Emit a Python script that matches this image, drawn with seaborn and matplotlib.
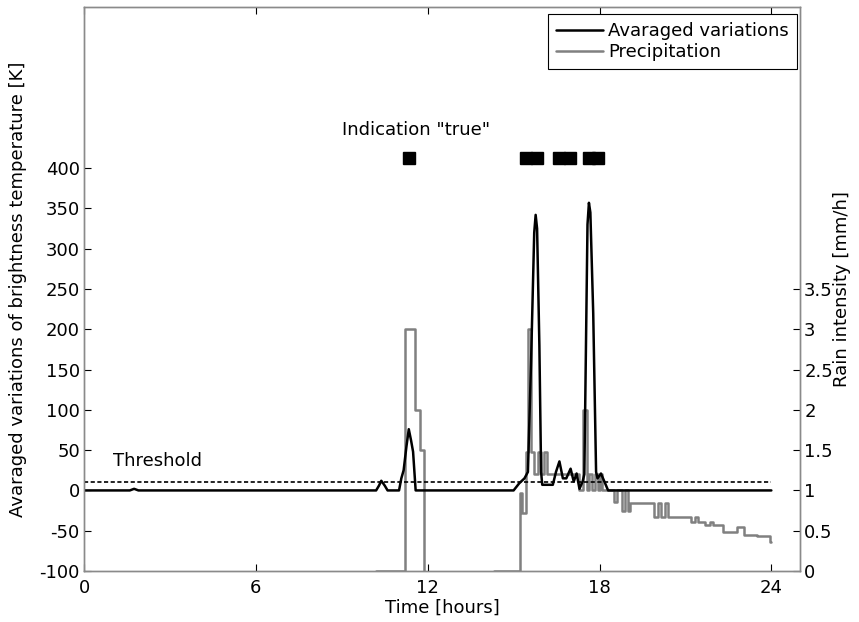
import matplotlib
matplotlib.use("Agg")
import matplotlib.pyplot as plt
import seaborn as sns

# ---- data ----
var_t = [0.0, 1.6, 1.75, 1.9, 4.0, 10.2, 10.3, 10.38, 10.5, 10.6, 11.0, 11.08, 11.16,
         11.26, 11.34, 11.42, 11.49, 11.58, 15.0, 15.2, 15.38, 15.5, 15.61, 15.72,
         15.77, 15.82, 15.9, 15.96, 16.0, 16.37, 16.48, 16.6, 16.72, 16.84, 16.99,
         17.1, 17.2, 17.3, 17.41, 17.47, 17.58, 17.63, 17.68, 17.78, 17.88, 17.93,
         18.05, 18.17, 18.3, 24.0]
var_v = [0, 0, 2, 0, 0, 0, 6, 12, 6, 0, 0, 15, 25,
         55, 76, 62, 48, 0, 0, 9, 15, 23, 160, 320,
         342, 325, 180, 23, 7, 7, 23, 36, 15, 15, 27,
         11, 21, 2, 11, 20, 330, 357, 345, 220, 23, 15,
         21, 11, 0, 0]

# precipitation, first rain event
prec1_t = [10.2, 11.22, 11.55, 11.74, 11.86]
prec1_v = [0, 3.0, 2.0, 1.5, 0]
# precipitation, second rain event
prec2_t = [14.3, 15.23, 15.3, 15.45, 15.52, 15.61, 15.7,
           15.84, 15.96, 16.05, 16.18, 17.3, 17.44, 17.55, 17.65, 17.75, 17.85, 17.95,
           18.0, 18.1, 18.5, 18.6, 18.8, 18.9, 19.0, 19.08, 19.9, 20.05, 20.15, 20.3,
           20.4, 21.2, 21.35, 21.45, 21.7, 21.85, 21.95, 22.3, 22.8, 23.05, 23.5, 23.95, 24.0]
prec2_v = [0, 0.97, 0.72, 1.48, 3.0, 1.48, 1.21,
           1.48, 1.21, 1.48, 1.21, 1.0, 2.0, 1.0, 1.21, 1.0, 1.21, 1.0,
           1.21, 1.0, 0.86, 1.0, 0.75, 1.0, 0.75, 0.84, 0.67, 0.84, 0.67, 0.84,
           0.67, 0.61, 0.67, 0.61, 0.57, 0.61, 0.57, 0.49, 0.55, 0.45, 0.43, 0.36, 0.36]

indication_t = [11.35, 15.45, 15.8, 16.6, 16.97, 17.65, 17.96]
indication_level = 413
threshold = 10

x_ticks = [0, 6, 12, 18, 24]
left_ticks = list(range(-100, 401, 50))
right_ticks = [0, 0.5, 1, 1.5, 2, 2.5, 3, 3.5]

# ---- style ----
sns.set_style("white")
plt.rcParams['font.family'] = ['DejaVu Sans']
plt.rcParams['text.color'] = 'black'
plt.rcParams['axes.labelcolor'] = 'black'
FS = 13

fig = plt.figure(figsize=(8.59, 6.22), dpi=100)
ax = fig.add_axes([84/859, 51/622, 716/859, 564/622])
ax2 = ax.twinx()

sns.lineplot(x=var_t, y=var_v, ax=ax, color='black', lw=1.8,
             label='Avaraged variations', estimator=None, sort=False)
sns.lineplot(x=prec1_t, y=prec1_v, ax=ax2, color='#808080', lw=1.8,
             drawstyle='steps-post', label='Precipitation', estimator=None,
             sort=False, legend=False)
sns.lineplot(x=prec2_t, y=prec2_v, ax=ax2, color='#808080', lw=1.8,
             drawstyle='steps-post', estimator=None, sort=False, legend=False)

ax.plot([0, 24], [threshold, threshold], color='black', ls=(0, (2.5, 1.5)), lw=1.2)
ax.plot(indication_t, [indication_level]*len(indication_t), ls='none',
        marker='s', markersize=8.7, color='black')

ax.text(9.0, 447, 'Indication "true"', fontsize=FS, va='center', ha='left', color='black')
ax.text(1.0, 36, 'Threshold', fontsize=FS, va='center', ha='left', color='black')

ax.set_xlim(0, 25)
ax.set_ylim(-100, 600)
ax2.set_ylim(0, 7)
ax.set_xticks(x_ticks)
ax.set_xticklabels([str(t) for t in x_ticks])
ax.set_yticks(left_ticks)
ax.set_yticklabels([str(t) for t in left_ticks])
ax2.set_yticks(right_ticks)
ax2.set_yticklabels(['%g' % t for t in right_ticks])

for a in (ax, ax2):
    a.tick_params(direction='in', length=5, width=0.8, labelsize=FS, colors='black')
    for s in a.spines.values():
        s.set_color('#8a8a8a')
        s.set_linewidth(1.0)
ax.tick_params(axis='y', left=True, right=False, pad=3)
ax.tick_params(axis='x', top=True, bottom=True, pad=6)
ax2.tick_params(left=False, right=True, pad=3)

ax.set_xlabel('Time [hours]', fontsize=FS)
ax.set_ylabel('Avaraged variations of brightness temperature [K]', fontsize=FS)
ax2.set_ylabel('Rain intensity [mm/h]', fontsize=FS)
ax.xaxis.set_label_coords(0.5, -0.05)
ax.yaxis.set_label_coords(-0.079, 0.5)
ax2.yaxis.set_label_coords(1.046, 0.5)

ax.set_zorder(ax2.get_zorder() + 1)
ax.patch.set_visible(False)

h1, l1 = ax.get_legend_handles_labels()
h2, l2 = ax2.get_legend_handles_labels()
leg = ax.legend(h1[:1] + h2[:1], l1[:1] + l2[:1], loc='upper right',
                bbox_to_anchor=(0.996, 0.9876), borderaxespad=0, fontsize=FS,
                fancybox=False, framealpha=1, edgecolor='black',
                handlelength=2.6, handletextpad=0.3, labelspacing=0.15,
                borderpad=0.45)
leg.get_frame().set_linewidth(0.8)
for t in leg.get_texts():
    t.set_color('black')

fig.savefig('out.png', dpi=100)
